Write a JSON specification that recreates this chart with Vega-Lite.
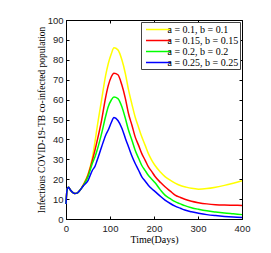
{
  "$schema": "https://vega.github.io/schema/vega-lite/v6.json",
  "width": 176,
  "height": 199,
  "autosize": "none",
  "padding": {"left": 66, "top": 20, "right": 29, "bottom": 34},
  "background": "white",
  "config": {
    "view": {"stroke": "black", "strokeWidth": 1},
    "axis": {
      "domainColor": "black",
      "tickColor": "black",
      "labelColor": "#222",
      "titleColor": "black",
      "grid": false,
      "labelFlush": false,
      "labelFont": "Liberation Sans",
      "labelFontSize": 9.5,
      "titleFont": "Liberation Serif",
      "titleFontWeight": "normal",
      "titleFontSize": 10,
      "tickSize": -3
    },
    "legend": {
      "orient": "top-right",
      "offset": 2,
      "fillColor": "white",
      "strokeColor": "#444",
      "padding": 1.5,
      "labelFont": "Liberation Serif",
      "labelFontSize": 10,
      "labelColor": "black",
      "symbolType": "M-2.5,0H2.5",
      "symbolSize": 100,
      "symbolStrokeWidth": 1.5,
      "symbolOffset": 10,
      "labelOffset": 3,
      "rowPadding": 0,
      "title": null
    }
  },
  "data": {
    "values": [
      {"t": 0, "y1": 7.5, "y2": 7.5, "y3": 7.5, "y4": 7.5},
      {"t": 2, "y1": 14, "y2": 14, "y3": 14, "y4": 14},
      {"t": 4, "y1": 15.6, "y2": 15.6, "y3": 15.6, "y4": 15.6},
      {"t": 6, "y1": 15.9, "y2": 15.9, "y3": 15.9, "y4": 15.9},
      {"t": 10, "y1": 14.6, "y2": 14.6, "y3": 14.6, "y4": 14.6},
      {"t": 15, "y1": 13.4, "y2": 13.4, "y3": 13.4, "y4": 13.4},
      {"t": 20, "y1": 12.8, "y2": 12.8, "y3": 12.8, "y4": 12.8},
      {"t": 25, "y1": 13, "y2": 13, "y3": 13, "y4": 13},
      {"t": 30, "y1": 14, "y2": 14, "y3": 14, "y4": 14},
      {"t": 40, "y1": 17.5, "y2": 17.3, "y3": 17, "y4": 16.8},
      {"t": 50, "y1": 22.5, "y2": 22, "y3": 21.2, "y4": 19.3},
      {"t": 60, "y1": 31, "y2": 29.5, "y3": 28, "y4": 24.5},
      {"t": 66, "y1": 39, "y2": 34.7, "y3": 31.3, "y4": 26.5},
      {"t": 70, "y1": 45, "y2": 38.5, "y3": 34, "y4": 29},
      {"t": 81, "y1": 60, "y2": 49.7, "y3": 43, "y4": 36.3},
      {"t": 90, "y1": 72, "y2": 61, "y3": 51.5, "y4": 42},
      {"t": 96, "y1": 78, "y2": 67, "y3": 56.4, "y4": 44.7},
      {"t": 103, "y1": 83, "y2": 71.5, "y3": 59.8, "y4": 48.5},
      {"t": 109, "y1": 86, "y2": 73.3, "y3": 61.3, "y4": 51},
      {"t": 118, "y1": 85, "y2": 72.5, "y3": 60.5, "y4": 49.5},
      {"t": 127, "y1": 80, "y2": 67.3, "y3": 56.4, "y4": 45.6},
      {"t": 135, "y1": 73, "y2": 60.5, "y3": 50.5, "y4": 40.5},
      {"t": 142, "y1": 65, "y2": 53, "y3": 44.7, "y4": 36.3},
      {"t": 150, "y1": 57.5, "y2": 47, "y3": 39.5, "y4": 31.5},
      {"t": 157, "y1": 51.4, "y2": 41.4, "y3": 34.7, "y4": 28},
      {"t": 165, "y1": 46, "y2": 37, "y3": 30.5, "y4": 24.5},
      {"t": 172, "y1": 41.4, "y2": 33, "y3": 27, "y4": 21.3},
      {"t": 180, "y1": 37, "y2": 29.5, "y3": 24.3, "y4": 19},
      {"t": 187, "y1": 33, "y2": 26.3, "y3": 22, "y4": 17},
      {"t": 195, "y1": 29.5, "y2": 23.8, "y3": 20, "y4": 15.2},
      {"t": 202, "y1": 27, "y2": 21.5, "y3": 18.3, "y4": 13.9},
      {"t": 215, "y1": 23.5, "y2": 18.3, "y3": 14.5, "y4": 11.3},
      {"t": 225, "y1": 21.3, "y2": 16.2, "y3": 12, "y4": 9.5},
      {"t": 237, "y1": 19.5, "y2": 14, "y3": 10.2, "y4": 7.8},
      {"t": 248, "y1": 18, "y2": 12, "y3": 8.7, "y4": 6.5},
      {"t": 260, "y1": 16.8, "y2": 10.8, "y3": 7.6, "y4": 5.4},
      {"t": 270, "y1": 16.2, "y2": 9.9, "y3": 6.7, "y4": 4.5},
      {"t": 285, "y1": 15.4, "y2": 8.9, "y3": 5.7, "y4": 3.6},
      {"t": 301, "y1": 15, "y2": 8.2, "y3": 4.9, "y4": 2.9},
      {"t": 320, "y1": 15.3, "y2": 7.6, "y3": 4.1, "y4": 2.2},
      {"t": 340, "y1": 16, "y2": 7.2, "y3": 3.5, "y4": 1.7},
      {"t": 360, "y1": 16.9, "y2": 7, "y3": 3, "y4": 1.3},
      {"t": 380, "y1": 18, "y2": 6.9, "y3": 2.6, "y4": 1},
      {"t": 400, "y1": 19.2, "y2": 6.8, "y3": 2.2, "y4": 0.8}
    ]
  },
  "transform": [{"fold": ["y1", "y2", "y3", "y4"], "as": ["s", "v"]}],
  "layer": [
    {
      "mark": {"type": "line", "interpolate": "monotone", "strokeWidth": 1.5},
      "encoding": {
        "x": {"field": "t", "type": "quantitative", "scale": {"domain": [0, 400], "nice": false}, "axis": {"values": [0, 100, 200, 300, 400], "title": "Time(Days)", "titlePadding": 2, "labelPadding": 7}},
        "y": {"field": "v", "type": "quantitative", "scale": {"domain": [0, 100], "nice": false}, "axis": {"values": [0, 10, 20, 30, 40, 50, 60, 70, 80, 90, 100], "title": "Infectious COVID-19-TB co-infected population", "titlePadding": 1, "labelPadding": 6, "titleFontSize": 9.5}},
        "color": {"field": "s", "type": "nominal", "scale": {"domain": ["y1", "y2", "y3", "y4"], "range": ["#FFFF00", "#FF0000", "#00FF00", "#0000FF"]}, "legend": {"labelExpr": "datum.value == 'y1' ? 'a = 0.1, b = 0.1' : datum.value == 'y2' ? 'a = 0.15, b = 0.15' : datum.value == 'y3' ? 'a = 0.2, b = 0.2' : 'a = 0.25, b = 0.25'"}}
      }
    },
    {
      "mark": {"type": "line", "opacity": 0},
      "encoding": {
        "x": {"field": "t", "type": "quantitative", "axis": {"orient": "top", "values": [0, 100, 200, 300, 400], "labels": false, "title": null, "domain": false}},
        "y": {"field": "v", "type": "quantitative", "axis": {"orient": "right", "values": [0, 10, 20, 30, 40, 50, 60, 70, 80, 90, 100], "labels": false, "title": null, "domain": false}},
        "detail": {"field": "s"}
      }
    }
  ],
  "resolve": {"axis": {"x": "independent", "y": "independent"}}
}
